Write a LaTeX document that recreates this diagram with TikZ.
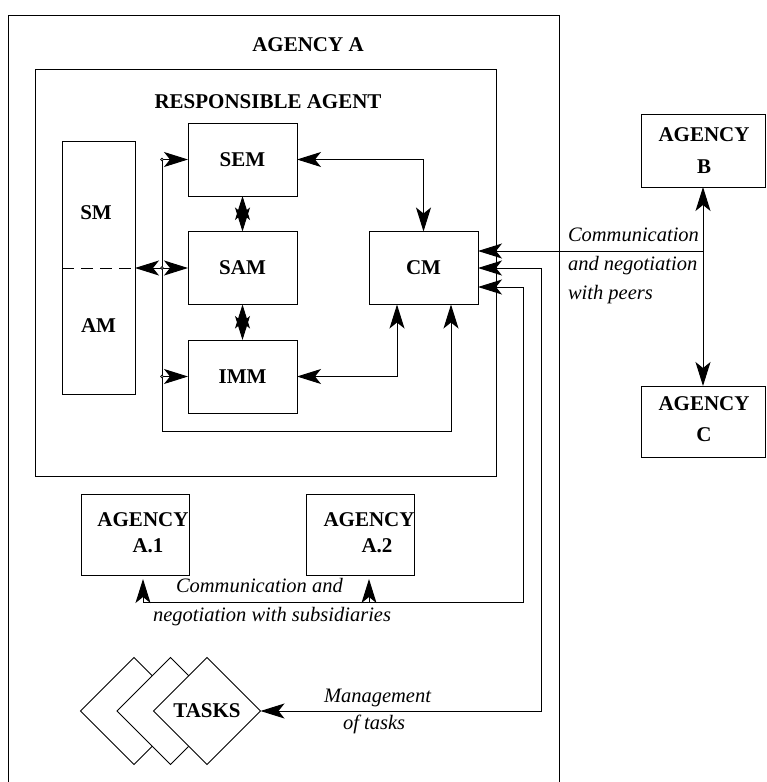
\documentclass[tikz,border=0pt]{standalone}
\usepackage{fontspec}
\setmainfont{Liberation Serif}
\usetikzlibrary{arrows.meta,shapes.geometric,calc}
\begin{document}
\begin{tikzpicture}[x=1pt,y=-1pt,
  every node/.style={inner sep=0pt, outer sep=0pt},
  ln/.style={line width=1pt},
  box/.style={draw, line width=1pt, font=\fontsize{21}{25}\selectfont\bfseries, minimum width=109pt, minimum height=73pt},
  plainbox/.style={draw, line width=1pt},
  lbl/.style={font=\fontsize{21}{25}\selectfont\bfseries},
  itl/.style={font=\fontsize{20.5}{25}\selectfont\itshape, anchor=base west},
  onearr/.style={-{Stealth[length=24pt,width=15pt,inset=6pt]}},
  twoarr/.style={{Stealth[length=24pt,width=15pt,inset=6pt]}-{Stealth[length=24pt,width=15pt,inset=6pt]}},
  taskbox/.style={draw, line width=1pt, diamond, fill=white, minimum width=107pt, minimum height=107pt, font=\fontsize{21}{25}\selectfont\bfseries}
]
\useasboundingbox (0,0) rectangle (767,782);

% Agency A outer frame (open at the bottom)
\draw[ln] (8,782) -- (8,15) -- (559,15) -- (559,782);
\node[lbl, anchor=base] (tA) at (308,51) {AGENCY A};

% Responsible agent
\node[plainbox, minimum width=461pt, minimum height=407pt] (ra) at (265.5,272.5) {};
\node[lbl, anchor=base] (tRA) at (268,108) {RESPONSIBLE AGENT};

% SM / AM
\node[plainbox, minimum width=73pt, minimum height=253pt] (smam) at (98.5,268) {};
\draw[ln, dash pattern=on 12pt off 7pt] (smam.west) -- (smam.east);
\node[lbl] (sm) at (96,213) {SM};
\node[lbl] (am) at (98.5,325.5) {AM};

% Modules
\node[box] (sem) at (242.5,159.5) {SEM};
\node[box] (sam) at (242.5,268) {SAM};
\node[box] (imm) at (242.5,376.5) {IMM};
\node[box] (cm) at (423.5,268) {CM};

% left bus
\coordinate (l1) at (162,159.5);
\coordinate (l2) at (162,268);
\coordinate (l3) at (162,376.5);
\coordinate (lb) at (162,431);
\draw[ln, onearr] (l1) -- (lb) -| ([xshift=27.5pt]cm.south);
\draw[ln, onearr] (l1) -- (sem.west);
\draw[ln, onearr] (l3) -- (imm.west);
\draw[ln, twoarr] (smam.east) -- (sam.west);
\draw[line width=0.6pt, fill=white] (l1) circle (1.4pt);
\draw[line width=0.6pt, fill=white] (l2) circle (1.4pt);
\draw[line width=0.6pt, fill=white] (l3) circle (1.4pt);

\draw[ln, twoarr] (sem.south) -- (sam.north);
\draw[ln, twoarr] (sam.south) -- (imm.north);
\draw[ln, twoarr] (sem.east) -| (cm.north);
\draw[ln, twoarr] (imm.east) -| ([xshift=-26.5pt]cm.south);

% Agencies B and C
\node[plainbox, minimum width=124pt, minimum height=73pt] (agb) at (703,150.5) {};
\node[lbl] (agbt) at (704,135) {AGENCY};
\node[lbl] (agbl) at (704,167) {B};
\node[plainbox, minimum width=124pt, minimum height=71pt] (agc) at (703,421.5) {};
\node[lbl] (agct) at (704,404) {AGENCY};
\node[lbl] (agcl) at (704,435) {C};
\draw[ln, twoarr] (agb.south) -- (agc.north);
\coordinate (cmp) at ([yshift=17pt]cm.east);
\draw[ln, onearr] (agb.south |- cmp) -- (cmp);
\node[itl] (p1) at (568,241) {Communication};
\node[itl] (p2) at (568,270) {and negotiation};
\node[itl] (p3) at (568,299) {with peers};

% Subsidiary agencies
\node[plainbox, minimum width=108pt, minimum height=81pt] (a1) at (135,534.5) {};
\node[lbl] (a1t) at (143,520) {AGENCY};
\node[lbl] (a1l) at (148,546) {A.1};
\node[plainbox, minimum width=108pt, minimum height=81pt] (a2) at (360,534.5) {};
\node[lbl] (a2t) at (369,520) {AGENCY};
\node[lbl] (a2l) at (377,546) {A.2};
\coordinate (s1) at (523,602);
\coordinate (a1p) at ([xshift=8pt,yshift=-4pt]a1.south);
\coordinate (a2p) at ([xshift=9pt,yshift=-4pt]a2.south);
\coordinate (cms) at ([yshift=-19pt]cm.east);
\draw[ln, twoarr] (a1p) |- (s1) |- (cms);
\draw[ln, onearr] (a2p |- s1) -- (a2p);
\node[itl] (sl1) at (176,592) {Communication and};
\node[itl] (sl2) at (153,621) {negotiation with subsidiaries};

% Tasks
\node[taskbox] (t1) at (134,711) {};
\node[taskbox] (t2) at (170.5,711) {};
\node[taskbox] (t3) at (207,711) {TASKS};
\coordinate (tk) at (541,711);
\draw[ln, twoarr] (t3.east) -- (tk) |- (cm.east);
\node[itl] (m1) at (324,702) {Management};
\node[itl] (m2) at (343,729) {of tasks};
\end{tikzpicture}
\end{document}
